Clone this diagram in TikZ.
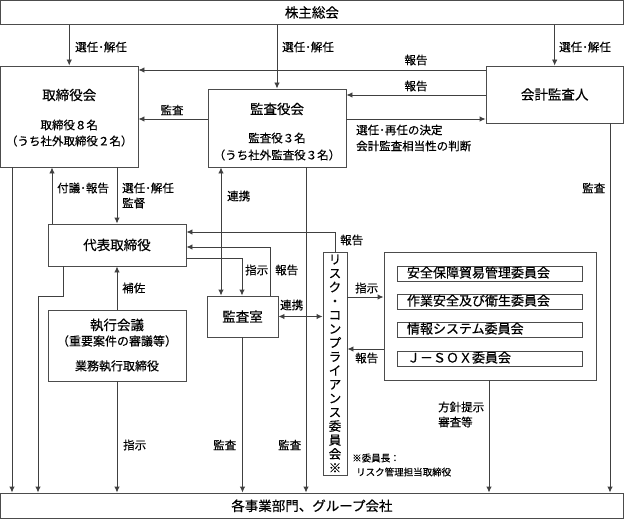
\documentclass[tikz,border=0pt]{standalone}
\usepackage{fontspec}
\setmainfont{Noto Sans CJK JP}[FakeBold=0.4]
\usetikzlibrary{arrows.meta,calc}
\begin{document}
\begin{tikzpicture}[x=1pt,y=-1pt,
  box/.style={draw=black!70, line width=0.9pt, fill=white, inner sep=0pt, align=center},
  ttl/.style={font=\fontsize{13.5}{16}\selectfont},
  cbox/.style={box, minimum height=15, text width=165, align=left, inner xsep=10pt, inner ysep=0pt, text height=10pt, text depth=2pt, font=\fontsize{13}{15}\selectfont},
  ln/.style={draw=black!75, line width=0.9pt},
  arr/.style={ln, -{Latex[length=6pt,width=5.5pt]}},
  darr/.style={ln, {Latex[length=6pt,width=5.5pt]}-{Latex[length=6pt,width=5.5pt]}},
  lbl/.style={font=\fontsize{11.5}{14}\selectfont, inner sep=0pt, anchor=west},
  clbl/.style={font=\fontsize{11.5}{14}\selectfont, inner sep=0pt},
  sub/.style={font=\fontsize{11.5}{14}\selectfont, inner sep=0pt},
  note/.style={font=\fontsize{9.5}{11}\selectfont, inner sep=0pt, anchor=west},
]
\useasboundingbox (0,0) rectangle (624,519);

% boxes
\node[box, ttl, minimum width=622.8, minimum height=24] (sh) at (311.9,12.5) {株主総会};
\node[box, minimum width=137.5, minimum height=101] (bod) at (69.25,116.5) {};
\node[box, minimum width=138, minimum height=78] (kan) at (277,128) {};
\node[box, ttl, minimum width=137.3, minimum height=57] (kai) at (554.65,94.5) {会計監査人};
\node[box, ttl, minimum width=138, minimum height=42] (rep) at (117,245) {代表取締役};
\node[box, ttl, minimum width=71, minimum height=41] (office) at (242.5,316.5) {監査室};
\node[box, minimum width=138, minimum height=71] (exec) at (117,345.5) {};
\node[box, minimum width=24, minimum height=223, font=\fontsize{12.5}{13.9}\selectfont] (risk) at (335,363.5)
  {リ\\ス\\ク\\・\\コ\\ン\\プ\\ラ\\イ\\ア\\ン\\ス\\委\\員\\会\\※};
\node[box, minimum width=212, minimum height=128] (grp) at (490,316) {};
\node[cbox] (c1) at (489.5,273.5) {安全保障貿易管理委員会};
\node[cbox] (c2) at (489.5,301.5) {作業安全及び衛生委員会};
\node[cbox] (c3) at (489.5,329.5) {情報システム委員会};
\node[cbox] (c4) at (489.5,358.5) {Ｊ－ＳＯＸ委員会};
\node[box, ttl, minimum width=622.8, minimum height=25.5] (bottom) at (311.9,505.75) {各事業部門、グループ会社};

% texts inside boxes
\node[ttl, inner sep=0pt] (bodt) at (69.25,95) {取締役会};
\node[sub] (bods1) at (69.25,125) {取締役８名};
\node[sub] (bods2) at (69.25,141) {（うち社外取締役２名）};
\node[ttl, inner sep=0pt] (kant) at (277,109) {監査役会};
\node[sub] (kans1) at (277,138) {監査役３名};
\node[sub] (kans2) at (277,155) {（うち社外監査役３名）};
\node[ttl, inner sep=0pt] (exect) at (117,325) {執行会議};
\node[sub, font=\fontsize{12}{14}\selectfont] (execs1) at (117,341) {（重要案件の審議等）};
\node[sub, font=\fontsize{12}{14}\selectfont] (execs2) at (117,366) {業務執行取締役};

% connectors
\draw[arr] (sh.south -| bod.north) -- (bod.north);
\draw[arr] (sh.south -| kan.north) -- (kan.north);
\draw[arr] (sh.south -| kai.north) -- (kai.north);
\draw[arr] (kai.west |- 0,70) -- (bod.east |- 0,70);
\draw[arr] (kai.west |- 0,95) -- (kan.east |- 0,95);
\draw[arr] (kan.east |- 0,119) -- (kai.west |- 0,119);
\draw[arr] (kan.west |- 0,119) -- (bod.east |- 0,119);
\draw[arr] (bod.south -| 12,0) -- (bottom.north -| 12,0);
\draw[arr] (rep.north -| 52,0) -- (bod.south -| 52,0);
\draw[arr] (bod.south -| 117,0) -- (rep.north -| 117,0);
\draw[darr] (kan.south -| 221,0) -- (office.north -| 221,0);
\draw[arr] (kan.south -| 306,0) -- (bottom.north -| 306,0);
\draw[arr] (kai.south -| 610,0) -- (bottom.north -| 610,0);
\draw[arr] (risk.north) |- (rep.east |- 0,232);
\draw[arr] (office.north -| 270,0) |- (rep.east |- 0,247);
\draw[arr] (rep.east |- 0,258) -| (office.north -| 242,0);
\draw[darr] (office.east) -- (risk.west |- office.east);
\draw[arr] (exec.north) -- (rep.south);
\draw[arr] (rep.south -| 63,0) -- (63,296) -- (38,296) -- (bottom.north -| 38,0);
\draw[arr] (exec.south) -- (bottom.north -| exec.south);
\draw[arr] (office.south) -- (bottom.north -| office.south);
\draw[arr] (risk.east |- 0,297) -- (grp.west |- 0,297);
\draw[arr] (grp.west |- 0,349) -- (risk.east |- 0,349);
\draw[arr] (grp.south -| 489,0) -- (bottom.north -| 489,0);

% labels
\node[lbl] (l1) at (75,47) {選任･解任};
\node[lbl] (l2) at (282,47) {選任･解任};
\node[lbl] (l3) at (559,47) {選任･解任};
\node[clbl] (l4) at (416,60) {報告};
\node[clbl] (l5) at (416,86) {報告};
\node[clbl] (l6) at (172,110) {監査};
\node[lbl] (l7) at (356,130) {選任･再任の決定};
\node[lbl] (l8) at (356,146) {会計監査相当性の判断};
\node[lbl] (l9) at (57,188) {付議･報告};
\node[lbl] (l10) at (122,188) {選任･解任};
\node[lbl] (l11) at (122,203) {監督};
\node[lbl] (l12) at (227,196) {連携};
\node[lbl] (l13) at (582,188) {監査};
\node[lbl] (l14) at (340,240) {報告};
\node[lbl] (l15) at (245,270) {指示};
\node[lbl] (l16) at (275,270) {報告};
\node[lbl] (l17) at (280,305) {連携};
\node[lbl] (l18) at (122,288) {補佐};
\node[lbl] (l19) at (355,288) {指示};
\node[lbl] (l20) at (355,358) {報告};
\node[lbl] (l21) at (438,407) {方針提示};
\node[lbl] (l22) at (438,422) {審査等};
\node[note] (l23) at (352,458) {※委員長：};
\node[note] (l24) at (356,472) {リスク管理担当取締役};
\node[lbl] (l25) at (123,445) {指示};
\node[lbl] (l26) at (213,445) {監査};
\node[lbl] (l27) at (278,445) {監査};
\end{tikzpicture}
\end{document}
